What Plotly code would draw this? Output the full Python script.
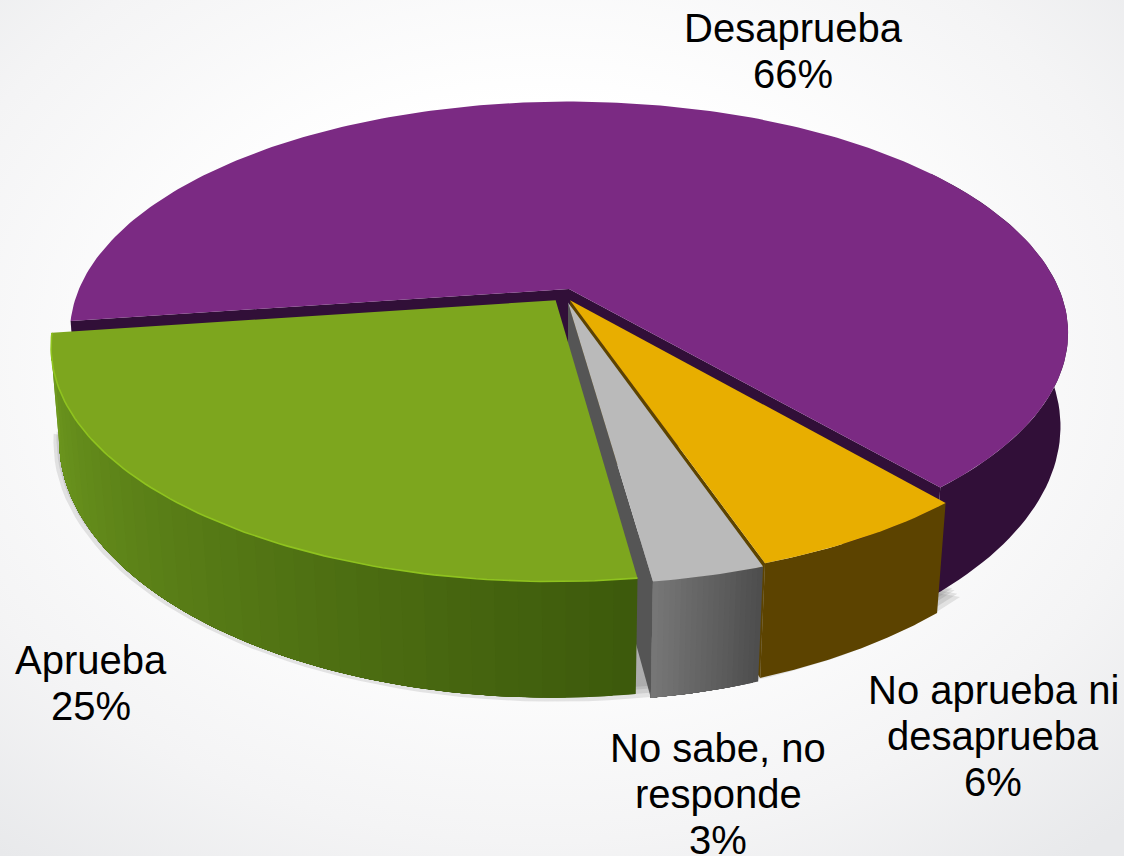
import base64
import numpy as np
import plotly.graph_objects as go

# --- data
categories = ["Desaprueba", "No aprueba ni desaprueba", "No sabe, no responde", "Aprueba"]
values = [66, 6, 3, 25]
label_lines = [["Desaprueba"], ["No aprueba ni", "desaprueba"], ["No sabe, no", "responde"], ["Aprueba"]]
label_x = [793, 993, 718, 91]
label_y = [28, 690, 748, 660]

# --- styles
top_colors = ["#7B2A83", "#E8AE00", "#BABABA", "#7DA61E"]
wall_bright = ["#310F38", "#5C4300", "#767676", "#6F9A1F"]
wall_dark = ["#310F38", "#5C4300", "#4E4E4E", "#3D5A0C"]
cut_colors = ["#310F38", "#5C4300", "#555555", None]
offset_u = [0.0, 0.002, -0.002, -0.027]
offset_v = [0.0, 0.05, 0.06, 0.05]
cut_visible = [(True, True), (False, True), (False, True), (False, False)]
START_DEG = 172     # boundary between Aprueba and Desaprueba, measured clockwise in the pie plane

CX, CY, BX, AY, K, DROP = 569, 289, 490, 223, 0.19, 93


def project(u, v, bottom=False):
    u, v = np.asarray(u, float), np.asarray(v, float)
    s = 1 / (1 - K * v)
    shrink = 0.987 - 0.012 * v if bottom else 1
    x = CX + BX * u * s * shrink
    y = CY + AY * v * s + (DROP * s if bottom else 0)
    return x, y


fractions = np.array(values) / sum(values)
edges = np.radians(START_DEG) + 2 * np.pi * np.concatenate([[0], np.cumsum(fractions)])


def poly(x, y, color):
    x, y = list(x), list(y)
    return go.Scatter(x=x + [x[0]], y=y + [y[0]], mode="lines", fill="toself",
                      fillcolor=color, line=dict(color="rgba(0,0,0,0)", width=0),
                      hoverinfo="skip", showlegend=False)


def mix(a, b, t):
    ca = [int(a[i:i + 2], 16) for i in (1, 3, 5)]
    cb = [int(b[i:i + 2], 16) for i in (1, 3, 5)]
    return "rgb(%d,%d,%d)" % tuple(round(p + (q - p) * t) for p, q in zip(ca, cb))


traces = []

# soft shadow below the pie, on the front and the lower left only
ring = np.radians(np.arange(45, 172, 2))
for grow, dy in [(1.022, 7), (1.016, 5), (1.010, 3), (1.005, 2)]:
    xs, ys = project(grow * np.cos(ring) - 0.022, grow * np.sin(ring) + 0.02, True)
    traces.append(poly(xs, ys + dy, "rgba(70,70,70,0.13)"))

order = [0, 1, 2, 3]
for i in order:
    a0, a1 = edges[i], edges[i + 1]
    du, dv = offset_u[i], offset_v[i]
    th = np.linspace(a0, a1, max(16, int(np.degrees(a1 - a0))))
    cu, cv = du + np.cos(th), dv + np.sin(th)

    # radial cut walls that face the viewer
    for a, seen in zip((a0, a1), cut_visible[i]):
        if not seen:
            continue
        eu, ev = du + np.cos(a), dv + np.sin(a)
        xt, yt = project([du, eu], [dv, ev])
        xb, yb = project([du, eu], [dv, ev], True)
        traces.append(poly([xt[0], xt[1], xb[1], xb[0]], [yt[0], yt[1], yb[1], yb[0]], cut_colors[i]))

    # outer wall, only the part that faces the viewer, drawn as overlapping shaded strips
    n = {0: 1, 1: 1, 2: 20, 3: 40}[i]
    tw = np.linspace(a0, a1, n + 1)
    if i == 0:
        tw = np.radians([-35, np.degrees(a1) - 360])
    for j in range(n):
        seg = np.linspace(tw[j], tw[-1], 60 if n == 1 else max(6, 3 * (n - j)))
        su, sv = du + np.cos(seg), dv + np.sin(seg)
        xt, yt = project(su, sv)
        xb, yb = project(su, sv, True)
        t = (n - 1 - j) / (n - 1) if n > 1 else 0
        traces.append(poly(list(xt) + list(xb[::-1]), list(yt) + list(yb[::-1]),
                           mix(wall_bright[i], wall_dark[i], t)))

    # top face
    x, y = project([du, *cu], [dv, *cv])
    traces.append(poly(x, y, top_colors[i]))
    if i == 3:
        keep = th > np.radians(105)
        xr, yr = project(cu[keep], cv[keep])
        traces.append(go.Scatter(x=xr, y=yr, mode="lines", line=dict(color="#8FC31F", width=1.6),
                                 hoverinfo="skip", showlegend=False))

fig = go.Figure(traces)

for lines, v, lx, ly in zip(label_lines, values, label_x, label_y):
    for n, text in enumerate(lines + [f"{v}%"]):
        fig.add_annotation(x=lx, y=ly + n * 46, text=text, showarrow=False, xanchor="center", yanchor="middle",
                           font=dict(family="Liberation Sans, Arial", size=40, color="#000000"))

svg = ('<svg xmlns="http://www.w3.org/2000/svg" width="1124" height="856"><defs>'
       '<radialGradient id="g" cx="48%" cy="42%" r="75%"><stop offset="0.4" stop-color="#FFFFFF"/>'
       '<stop offset="0.75" stop-color="#F4F4F5"/><stop offset="1" stop-color="#E8E9EB"/></radialGradient></defs>'
       '<rect width="1124" height="856" fill="url(#g)"/></svg>')
fig.update_layout(
    width=1124, height=856, margin=dict(l=0, r=0, t=0, b=0), showlegend=False,
    paper_bgcolor="white", plot_bgcolor="rgba(0,0,0,0)",
    xaxis=dict(range=[0, 1124], visible=False, fixedrange=True),
    yaxis=dict(range=[856, 0], visible=False, fixedrange=True),
    images=[dict(source="data:image/svg+xml;base64," + base64.b64encode(svg.encode()).decode(),
                 xref="paper", yref="paper", x=0, y=1, sizex=1, sizey=1, sizing="stretch",
                 xanchor="left", yanchor="top", layer="below")],
)
fig.write_html("out.html", config={"displayModeBar": False},
               post_script="document.body.style.margin='0';document.documentElement.style.overflow='hidden';")
